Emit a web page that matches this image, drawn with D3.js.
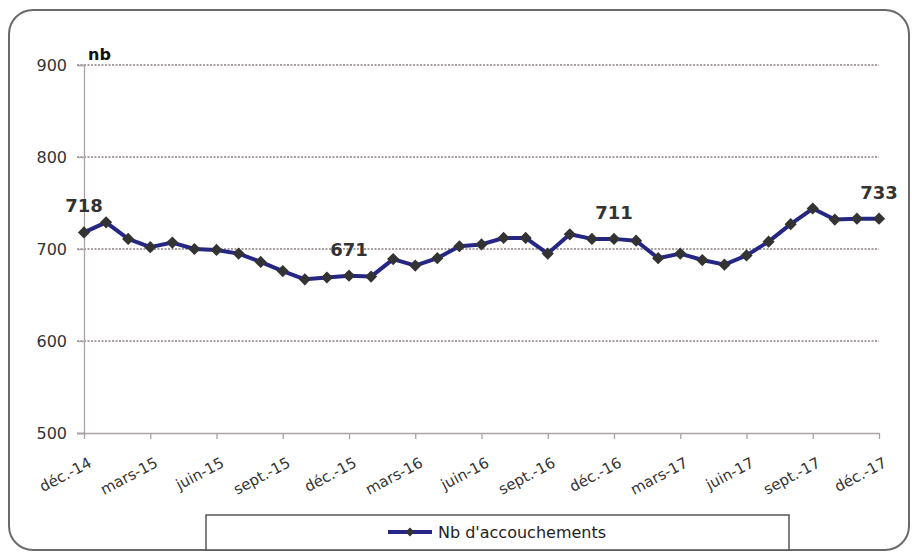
<!DOCTYPE html>
<html>
<head>
<meta charset="utf-8">
<script src="https://cdn.jsdelivr.net/npm/d3@7"></script>
<style>
  html, body { margin: 0; padding: 0; background: #fff; }
  svg { display: block; font-family: "DejaVu Sans", Verdana, sans-serif; }
</style>
</head>
<body>
<svg id="chart" width="912" height="553"></svg>
<script>
// Monthly births, December 2014 to December 2017
const months = [
  "déc.-14","janv.-15","févr.-15","mars-15","avr.-15","mai-15","juin-15","juil.-15","août-15","sept.-15","oct.-15","nov.-15",
  "déc.-15","janv.-16","févr.-16","mars-16","avr.-16","mai-16","juin-16","juil.-16","août-16","sept.-16","oct.-16","nov.-16",
  "déc.-16","janv.-17","févr.-17","mars-17","avr.-17","mai-17","juin-17","juil.-17","août-17","sept.-17","oct.-17","nov.-17",
  "déc.-17"
];
const births = [
  718, 729, 711, 702, 707, 700, 699, 695, 686, 676, 667, 669,
  671, 670, 689, 682, 690, 703, 705, 712, 712, 695, 716, 711,
  711, 709, 690, 695, 688, 683, 693, 708, 727, 744, 732, 733,
  733
];
// Points whose value is written above the line
const labelled = ["déc.-14", "déc.-15", "déc.-16", "déc.-17"];
const yTicks = [500, 600, 700, 800, 900];
const seriesName = "Nb d'accouchements";
const yTitle = "nb";

const svg = d3.select("#chart");
const lineColor = "#262685";
const markColor = "#333333";

// Rounded frame
svg.append("rect")
  .attr("x", 9).attr("y", 10).attr("width", 900).attr("height", 540)
  .attr("rx", 24).attr("ry", 24)
  .attr("fill", "#fff").attr("stroke", "#6a6a6a").attr("stroke-width", 2);

const x = d3.scalePoint().domain(months).range([84, 879]);
const y = d3.scaleLinear().domain([500, 900]).range([433, 65]);

// Horizontal dotted gridlines
svg.append("g").selectAll("line")
  .data(yTicks.filter(t => t > 500))
  .join("line")
  .attr("x1", 77).attr("x2", 879)
  .attr("y1", d => y(d)).attr("y2", d => y(d))
  .attr("stroke", "#8a7f7f").attr("stroke-width", 1.3)
  .attr("stroke-dasharray", "2,1.5");

// Y axis
const yAxis = svg.append("g")
  .attr("transform", "translate(84,0)")
  .call(d3.axisLeft(y).tickValues(yTicks).tickSize(7).tickPadding(10));
yAxis.select(".domain").attr("stroke", "#aaa2a2").attr("stroke-width", 1.3);
yAxis.selectAll(".tick line").attr("stroke", "#aaa2a2").attr("stroke-width", 1.3);
yAxis.selectAll("text").attr("font-size", 16).attr("fill", "#333")
  .attr("font-family", "'DejaVu Sans', Verdana, sans-serif");

svg.append("text")
  .attr("x", 88).attr("y", 60)
  .attr("font-size", 16).attr("font-weight", "bold").attr("fill", "#111")
  .text(yTitle);

// X axis, one tick per quarter
const quarterTicks = months.filter((m, i) => i % 3 === 0);
const xAxis = svg.append("g")
  .attr("transform", "translate(0,433)")
  .call(d3.axisBottom(x).tickValues(quarterTicks).tickSize(6).tickSizeOuter(0));
xAxis.select(".domain").attr("stroke", "#aaa2a2").attr("stroke-width", 1.3)
  .attr("d", "M77,0.5H879.5");
xAxis.selectAll(".tick line").attr("stroke", "#aaa2a2").attr("stroke-width", 1.3);
xAxis.selectAll(".tick text")
  .attr("font-size", 15).attr("fill", "#333")
  .attr("font-family", "'DejaVu Sans', Verdana, sans-serif")
  .attr("text-anchor", "end")
  .attr("dy", 0)
  .attr("transform", "translate(4,25) rotate(-28)");

// Series line and diamond markers
const line = d3.line().x((d, i) => x(months[i])).y(d => y(d));
svg.append("path")
  .datum(births)
  .attr("d", line)
  .attr("fill", "none").attr("stroke", lineColor).attr("stroke-width", 4)
  .attr("stroke-linejoin", "round");

const diamond = d3.symbol().type(d3.symbolDiamond2).size(95);
svg.append("g").selectAll("path")
  .data(births)
  .join("path")
  .attr("transform", (d, i) => `translate(${x(months[i])},${y(d)})`)
  .attr("d", diamond)
  .attr("fill", markColor);

// Value labels
svg.append("g").selectAll("text")
  .data(labelled)
  .join("text")
  .attr("x", m => x(m))
  .attr("y", m => y(births[months.indexOf(m)]) - 20)
  .attr("text-anchor", "middle")
  .attr("font-size", 18).attr("font-weight", "bold").attr("fill", "#333")
  .text(m => births[months.indexOf(m)]);

// Legend
const lg = svg.append("g");
lg.append("rect")
  .attr("x", 206).attr("y", 515).attr("width", 583).attr("height", 35)
  .attr("fill", "#fff").attr("stroke", "#555").attr("stroke-width", 1.5);
lg.append("line")
  .attr("x1", 388).attr("x2", 432).attr("y1", 532).attr("y2", 532)
  .attr("stroke", lineColor).attr("stroke-width", 4);
lg.append("path")
  .attr("transform", "translate(410,532)")
  .attr("d", d3.symbol().type(d3.symbolDiamond2).size(50))
  .attr("fill", markColor);
lg.append("text")
  .attr("x", 438).attr("y", 538)
  .attr("font-size", 16).attr("fill", "#222")
  .text(seriesName);
</script>
</body>
</html>
